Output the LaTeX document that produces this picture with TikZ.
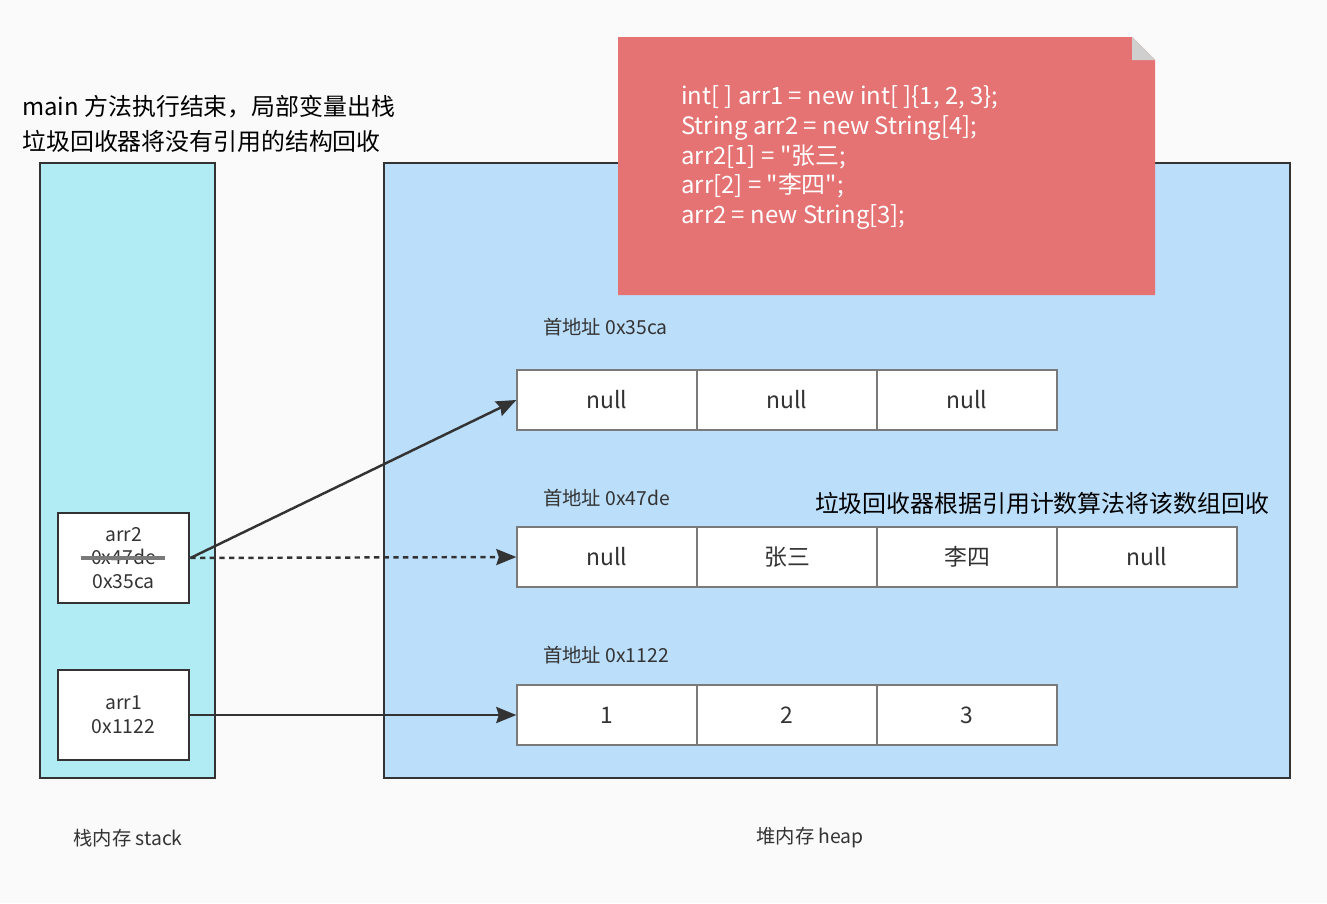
\documentclass[tikz,border=0pt]{standalone}
\usepackage{fontspec}
\setmainfont{Noto Sans CJK SC}[Ligatures=TeXOff]
\usetikzlibrary{positioning, calc, arrows.meta, shapes}

\definecolor{bgc}{HTML}{FAFAFA}
\definecolor{stackc}{HTML}{B1EBF3}
\definecolor{heapc}{HTML}{BBDEFA}
\definecolor{notec}{HTML}{E57373}
\definecolor{foldc}{HTML}{CFCFCF}
\definecolor{linec}{HTML}{333333}
\definecolor{cellc}{HTML}{7A7A7A}

\begin{document}
\begin{tikzpicture}[
    x=0.02cm, y=-0.02cm,
    region/.style={draw=linec, line width=1.6pt},
    var/.style={draw=linec, line width=1.6pt, fill=white, minimum width=2.62cm, minimum height=1.8cm, align=center, text=linec, font=\fontsize{11}{13.5}\selectfont},
    cell/.style={draw=cellc, line width=0.8pt, fill=white, minimum width=3.6cm, minimum height=1.2cm, text height=1.1em, text depth=0.1em, text=linec, font=\fontsize{13}{15}\selectfont},
    addr/.style={anchor=west, text=linec, font=\fontsize{11}{13}\selectfont},
    arrow/.style={-{Stealth[length=0.4cm, width=0.32cm, inset=0.05cm]}, line width=1.4pt, linec}
]

    \useasboundingbox (0,0) rectangle (1327,903);
    \fill[bgc] (0,0) rectangle (1327,903);

    % Memory regions
    \draw[region, fill=stackc] (40,163) rectangle (215,778);
    \draw[region, fill=heapc] (384,163) rectangle (1290,778);

    % Code note
    \fill[notec] (618,37) -- (1132,37) -- (1155,60) -- (1155,295) -- (618,295) -- cycle;
    \fill[foldc] (1132,37) -- (1132,60) -- (1155,60) -- cycle;
    \node[anchor=north west, align=left, text=white, inner sep=0pt, font=\fontsize{13.6}{17}\selectfont] (code) at (681,85)
        {int[ ] arr1 = new int[ ]\{1, 2, 3\};\\
         String arr2 = new String[4];\\
         arr2[1] = "张三;\\
         arr[2] = "李四";\\
         arr2 = new String[3];};

    \node[anchor=north west, align=left, inner sep=0pt, font=\fontsize{13.6}{19.8}\selectfont] (note) at (22,95)
        {main 方法执行结束，局部变量出栈\\垃圾回收器将没有引用的结构回收};

    % Stack variables
    \node[var] (v2) at (123.5,558) {arr2\\0x47de\\0x35ca};
    \node[var] (v1) at (123.5,715) {arr1\\0x1122};
    \draw[cellc, line width=2.4pt] (v2.center) ++(-43,0) -- ++(84,0);

    % Heap arrays
    \foreach \t [count=\i] in {null,null,null} {
        \node[cell] (a1-\i) at ({427+\i*180}, 400) {\t};
    }
    \foreach \t [count=\i] in {null,张三,李四,null} {
        \node[cell] (a2-\i) at ({427+\i*180}, 557) {\t};
    }
    \foreach \t [count=\i] in {1,2,3} {
        \node[cell] (a3-\i) at ({427+\i*180}, 715) {\t};
    }

    % Addresses
    \node[addr] at (537,327) {首地址 0x35ca};
    \node[addr] at (537,498) {首地址 0x47de};
    \node[addr] at (537,655) {首地址 0x1122};
    \node[font=\fontsize{13.6}{16}\selectfont] (gc) at (1042,503) {垃圾回收器根据引用计数算法将该数组回收};

    % References
    \draw[arrow] (v2.east) -- (a1-1.west);
    \draw[arrow, dash pattern=on 3pt off 2.5pt] (v2.east) -- (a2-1.west);
    \draw[arrow] (v1.east) -- (a3-1.west);

    % Labels
    \node[text=linec, font=\fontsize{11}{13}\selectfont] (stacklbl) at (128,838) {栈内存 stack};
    \node[text=linec, font=\fontsize{11}{13}\selectfont] (heaplbl) at (810,838) {堆内存 heap};

\end{tikzpicture}
\end{document}
